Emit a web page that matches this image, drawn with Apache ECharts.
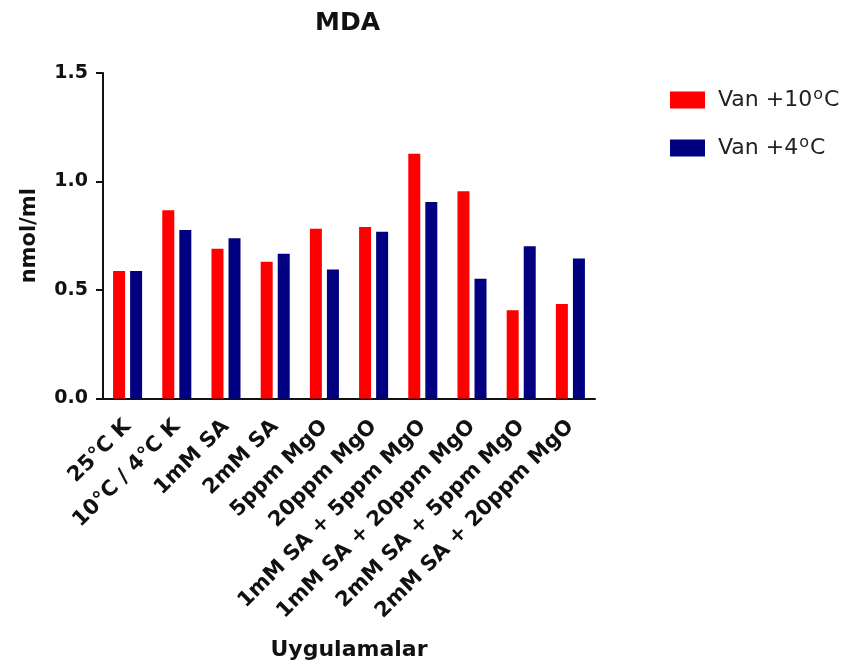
<!DOCTYPE html>
<html>
<head>
<meta charset="utf-8">
<script src="https://cdn.jsdelivr.net/npm/echarts@6/dist/echarts.min.js"></script>
<style>html,body{margin:0;padding:0;background:#fff;}#c{width:853px;height:666px;}</style>
</head>
<body>
<div id="c"></div>
<script>
const categories = ['25°C K', '10°C / 4°C K', '1mM SA', '2mM SA', '5ppm MgO', '20ppm MgO',
  '1mM SA + 5ppm MgO', '1mM SA + 20ppm MgO', '2mM SA + 5ppm MgO', '2mM SA + 20ppm MgO'];
const seriesNames = ['Van +10oC', 'Van +4oC'];
const van10 = [0.587, 0.868, 0.690, 0.630, 0.782, 0.790, 1.128, 0.955, 0.407, 0.436];
const van4 = [0.587, 0.776, 0.739, 0.667, 0.594, 0.768, 0.906, 0.552, 0.702, 0.645];
const yTicks = [0, 0.5, 1.0, 1.5];

const FONT = '"DejaVu Sans", sans-serif';
const chart = echarts.init(document.getElementById('c'));
chart.setOption({
  backgroundColor: '#fff',
  animation: false,
  title: {
    text: 'MDA', left: 310, top: 6,
    textStyle: { fontFamily: FONT, fontSize: 25, fontWeight: 'bold', color: '#111' }
  },
  legend: {
    orient: 'vertical', left: 665, top: 82, itemWidth: 35, itemHeight: 17, itemGap: 22,
    icon: 'rect',
    formatter: function (n) {
      const m = n.match(/^(.*)o(C)$/);
      return '{a|' + m[1] + '}{s|o}{a|C}';
    },
    textStyle: {
      fontFamily: FONT, color: '#222', padding: [0, 0, 0, 8], lineHeight: 25,
      rich: {
        a: { fontFamily: FONT, fontSize: 22, color: '#222', lineHeight: 25 },
        s: { fontFamily: FONT, fontSize: 16, color: '#222', lineHeight: 25, padding: [0, 1, 10, 1] }
      }
    },
    data: seriesNames
  },
  grid: { left: 103, top: 73, width: 492, height: 325.5, containLabel: false },
  xAxis: {
    type: 'category', data: categories,
    name: 'Uygulamalar', nameLocation: 'middle', nameGap: 241,
    nameTextStyle: { fontFamily: FONT, fontSize: 22, fontWeight: 'bold', color: '#111' },
    axisLine: { lineStyle: { color: '#111', width: 2 } },
    axisTick: { alignWithLabel: true, length: 9, lineStyle: { color: '#111', width: 2 } },
    axisLabel: { rotate: 45, interval: 0, margin: 25, fontFamily: FONT, fontSize: 21, fontWeight: 'bold', color: '#111' }
  },
  yAxis: {
    type: 'value', min: 0, max: 1.5, interval: 0.5,
    name: 'nmol/ml', nameLocation: 'middle', nameGap: 63,
    nameTextStyle: { fontFamily: FONT, fontSize: 21, fontWeight: 'bold', color: '#111' },
    axisLine: { show: true, lineStyle: { color: '#111', width: 2 } },
    axisTick: { show: true, length: 7, lineStyle: { color: '#111', width: 2 } },
    splitLine: { show: false },
    axisLabel: {
      fontFamily: FONT, fontSize: 19, fontWeight: 'bold', color: '#111', margin: 15,
      formatter: v => yTicks.includes(v) ? v.toFixed(1) : ''
    }
  },
  series: [
    { name: seriesNames[0], type: 'bar', data: van10, barWidth: 12, barGap: '42%',
      itemStyle: { color: '#FF0000' } },
    { name: seriesNames[1], type: 'bar', data: van4, barWidth: 12,
      itemStyle: { color: '#000080' } }
  ]
});
</script>
</body>
</html>
